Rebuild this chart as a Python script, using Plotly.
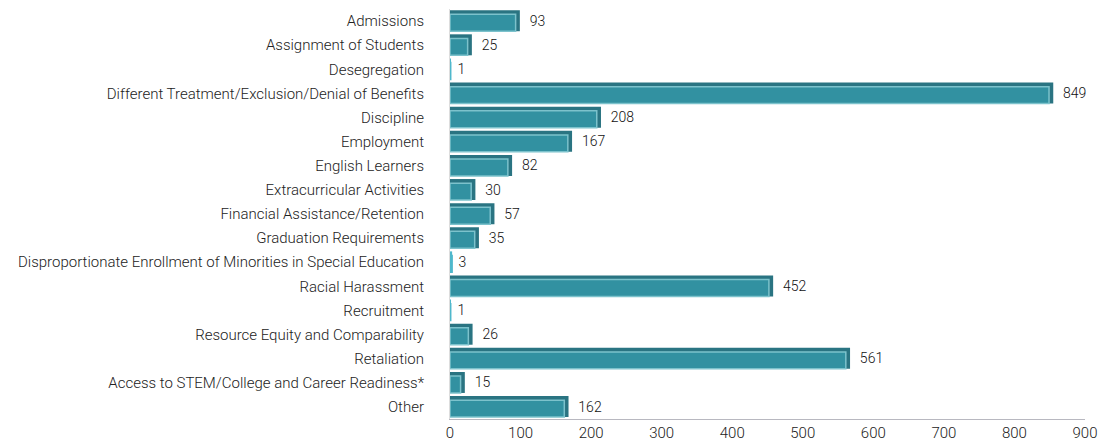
import plotly.graph_objects as go

categories = [
    "Admissions",
    "Assignment of Students",
    "Desegregation",
    "Different Treatment/Exclusion/Denial of Benefits",
    "Discipline",
    "Employment",
    "English Learners",
    "Extracurricular Activities",
    "Financial Assistance/Retention",
    "Graduation Requirements",
    "Disproportionate Enrollment of Minorities in Special Education",
    "Racial Harassment",
    "Recruitment",
    "Resource Equity and Comparability",
    "Retaliation",
    "Access to STEM/College and Career Readiness*",
    "Other",
]
values = [93, 25, 1, 849, 208, 167, 82, 30, 57, 35, 3, 452, 1, 26, 561, 15, 162]
tick_vals = [0, 100, 200, 300, 400, 500, 600, 700, 800, 900]

depth = 6  # 3D depth in data units (style)
FONT = "Roboto, Liberation Sans, sans-serif"

back_x = [v + depth if v > 3 else v for v in values]
back_colors = ["#2a7482" if v > 3 else "#4fb8cc" for v in values]
front_colors = ["#3291a1" if v > 3 else "#4fb8cc" for v in values]
front_line = ["#7cc2cc" if v > 3 else "#4fb8cc" for v in values]
label_text = ["\u00a0\u00a0" + str(v) if v > 3 else "\u00a0" + str(v) for v in values]

fig = go.Figure()
# back / top face
fig.add_trace(go.Bar(
    y=categories, x=back_x, orientation="h",
    width=0.87, offset=-0.45,
    marker=dict(color=back_colors, line=dict(width=0)),
    text=label_text, textposition="outside",
    textfont=dict(family=FONT, size=14, color="#111", weight=300),
    cliponaxis=False, hoverinfo="skip",
))
# front face
fig.add_trace(go.Bar(
    y=categories, x=values, orientation="h",
    width=0.70, offset=-0.28,
    marker=dict(color=front_colors, line=dict(width=1.5, color=front_line)),
    hoverinfo="skip",
))

fig.update_layout(
    width=1108, height=443,
    margin=dict(l=450, r=23, t=9, b=24, autoexpand=False),
    plot_bgcolor="white", paper_bgcolor="white",
    showlegend=False, barmode="overlay",
    font=dict(family=FONT, size=15, color="#222", weight=300),
)
fig.update_xaxes(
    range=[0, 900], tickvals=tick_vals, showgrid=False, zeroline=False,
    showline=True, linecolor="#b8b8c0", linewidth=1, automargin=False,
    tickfont=dict(family=FONT, size=15, color="#222", weight=300), ticks="",
)
fig.update_yaxes(
    categoryorder="array", categoryarray=categories, autorange="reversed",
    showgrid=False, zeroline=False, showline=True, linecolor="#dddddd", linewidth=1,
    automargin=False,
    tickfont=dict(family=FONT, size=15, color="#222", weight=300), ticks="", ticklabelstandoff=22,
)

fig.write_html("out.html", config={"displayModeBar": False},
               post_script="document.body.style.margin='0';")
